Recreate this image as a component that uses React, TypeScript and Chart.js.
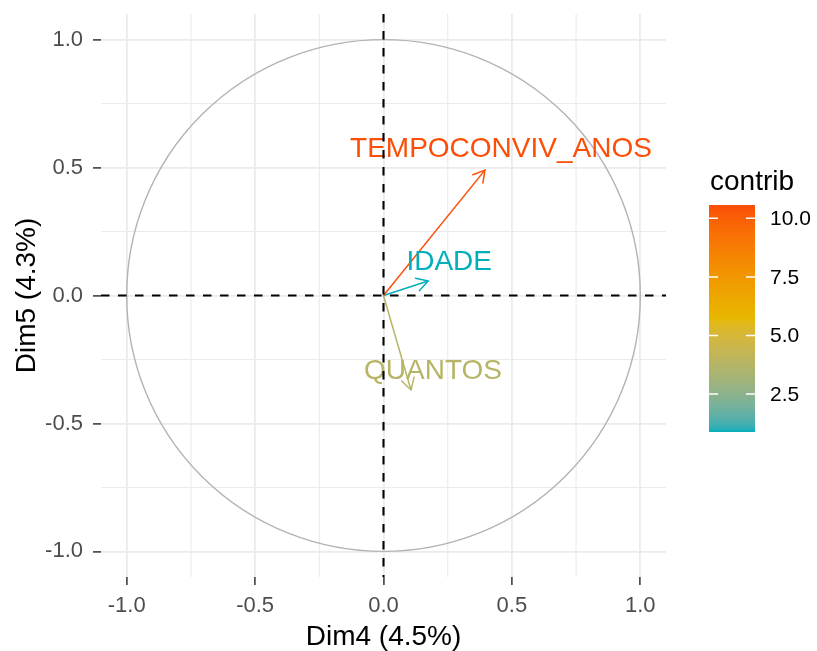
import React, { useEffect, useRef } from "react";
import { Chart, registerables } from "chart.js";

Chart.register(...registerables);

// Variable coordinates on Dim4 / Dim5 and their contributions
const variables = ["TEMPOCONVIV_ANOS", "IDADE", "QUANTOS"];
const dim4 = [0.395, 0.174, 0.107];
const dim5 = [0.49, 0.057, -0.369];
const contrib = [10.57, 0.88, 3.77];

const axisTicks = [-1, -0.5, 0, 0.5, 1];
const minorBreaks = [-0.75, -0.25, 0.25, 0.75];
const legendTicks = [2.5, 5, 7.5, 10];
const gradientColors = ["#00AFBB", "#E7B800", "#FC4E07"];

const xTitle = "Dim4 (4.5%)";
const yTitle = "Dim5 (4.3%)";
const legendTitle = "contrib";

const FONT = "'Liberation Sans', Arial, Helvetica, sans-serif";

// Label nudges (pixels) from the arrow tip to the text baseline centre
const labelNudge: [number, number][] = [
  [16, -13],
  [21, -11],
  [22, -11],
];

// ---- colour interpolation in CIE Lab (like ggplot's gradientn) ----
function hexToRgb(h: string): number[] {
  const s = h.replace("#", "");
  return [0, 2, 4].map((i) => parseInt(s.slice(i, i + 2), 16));
}
function toLin(c: number) {
  c /= 255;
  return c <= 0.04045 ? c / 12.92 : Math.pow((c + 0.055) / 1.055, 2.4);
}
function fromLin(c: number) {
  const v = c <= 0.0031308 ? 12.92 * c : 1.055 * Math.pow(c, 1 / 2.4) - 0.055;
  return Math.round(Math.max(0, Math.min(1, v)) * 255);
}
const Xn = 0.95047, Yn = 1, Zn = 1.08883;
function rgbToLab(rgb: number[]) {
  const [R, G, B] = rgb.map(toLin);
  const X = (0.4124 * R + 0.3576 * G + 0.1805 * B) / Xn;
  const Y = (0.2126 * R + 0.7152 * G + 0.0722 * B) / Yn;
  const Z = (0.0193 * R + 0.1192 * G + 0.9505 * B) / Zn;
  const f = (t: number) => (t > 0.008856 ? Math.cbrt(t) : 7.787 * t + 16 / 116);
  const fx = f(X), fy = f(Y), fz = f(Z);
  return [116 * fy - 16, 500 * (fx - fy), 200 * (fy - fz)];
}
function labToRgb(lab: number[]) {
  const [L, a, b] = lab;
  const fy = (L + 16) / 116;
  const fx = fy + a / 500;
  const fz = fy - b / 200;
  const inv = (t: number) => (t * t * t > 0.008856 ? t * t * t : (t - 16 / 116) / 7.787);
  const X = Xn * inv(fx), Y = Yn * inv(fy), Z = Zn * inv(fz);
  const R = 3.2406 * X - 1.5372 * Y - 0.4986 * Z;
  const G = -0.9689 * X + 1.8758 * Y + 0.0415 * Z;
  const B = 0.0557 * X - 0.204 * Y + 1.057 * Z;
  return [fromLin(R), fromLin(G), fromLin(B)];
}
const gradientLab = gradientColors.map((c) => rgbToLab(hexToRgb(c)));
const cMin = Math.min(...contrib);
const cMax = Math.max(...contrib);

function colorAt(v: number): string {
  let t = (v - cMin) / (cMax - cMin);
  t = Math.max(0, Math.min(1, t));
  const seg = Math.min(gradientLab.length - 2, Math.floor(t * (gradientLab.length - 1)));
  const local = t * (gradientLab.length - 1) - seg;
  const a = gradientLab[seg], b = gradientLab[seg + 1];
  const lab = a.map((x, i) => x + (b[i] - x) * local);
  const [r, g, bb] = labToRgb(lab);
  return `rgb(${r},${g},${bb})`;
}

const arrowColors = contrib.map(colorAt);

const decorPlugin = {
  id: "pcaDecor",
  beforeDatasetsDraw(chart: any) {
    const { ctx, chartArea: a, scales } = chart;
    const x = scales.x, y = scales.y;
    ctx.save();
    // minor grid
    ctx.strokeStyle = "#EBEBEB";
    ctx.lineWidth = 1.1;
    for (const v of minorBreaks) {
      const px = x.getPixelForValue(v);
      ctx.beginPath();
      ctx.moveTo(px, a.top);
      ctx.lineTo(px, a.bottom);
      ctx.stroke();
      const py = y.getPixelForValue(v);
      ctx.beginPath();
      ctx.moveTo(a.left, py);
      ctx.lineTo(a.right, py);
      ctx.stroke();
    }
    // unit correlation circle
    const cx = x.getPixelForValue(0), cy = y.getPixelForValue(0);
    const rx = x.getPixelForValue(1) - cx;
    const ry = cy - y.getPixelForValue(1);
    ctx.beginPath();
    ctx.ellipse(cx, cy, rx, ry, 0, 0, Math.PI * 2);
    ctx.strokeStyle = "#B3B3B3";
    ctx.lineWidth = 1.4;
    ctx.stroke();
    ctx.restore();
  },
  afterDatasetsDraw(chart: any) {
    const { ctx, chartArea: a, scales } = chart;
    const x = scales.x, y = scales.y;
    ctx.save();
    chart.data.datasets.forEach((ds: any, i: number) => {
      const meta = chart.getDatasetMeta(i);
      const p0 = meta.data[0], p1 = meta.data[1];
      const ang = Math.atan2(p1.y - p0.y, p1.x - p0.x);
      const len = 13, spread = Math.PI / 6;
      ctx.strokeStyle = arrowColors[i];
      ctx.lineWidth = 1.5;
      ctx.lineCap = "round";
      ctx.beginPath();
      ctx.moveTo(p1.x - len * Math.cos(ang - spread), p1.y - len * Math.sin(ang - spread));
      ctx.lineTo(p1.x, p1.y);
      ctx.lineTo(p1.x - len * Math.cos(ang + spread), p1.y - len * Math.sin(ang + spread));
      ctx.stroke();
      ctx.fillStyle = arrowColors[i];
      ctx.font = `28px ${FONT}`;
      ctx.textAlign = "center";
      ctx.textBaseline = "alphabetic";
      ctx.fillText(variables[i], p1.x + labelNudge[i][0], p1.y + labelNudge[i][1]);
    });
    // dashed reference lines through the origin
    ctx.strokeStyle = "#000000";
    ctx.lineWidth = 2.1;
    ctx.lineCap = "butt";
    ctx.setLineDash([8.5, 8.5]);
    const px = x.getPixelForValue(0);
    ctx.beginPath();
    ctx.moveTo(px, a.top);
    ctx.lineTo(px, a.bottom);
    ctx.stroke();
    const py = y.getPixelForValue(0);
    ctx.beginPath();
    ctx.moveTo(a.left, py);
    ctx.lineTo(a.right, py);
    ctx.stroke();
    ctx.restore();
  },
  afterDraw(chart: any) {
    const { ctx } = chart;
    ctx.save();
    const lx = 709, lw = 46, top = 205, bottom = 432;
    // legend title
    ctx.fillStyle = "#000000";
    ctx.font = `28px ${FONT}`;
    ctx.textAlign = "left";
    ctx.textBaseline = "alphabetic";
    ctx.fillText(legendTitle, 710, 190);
    // colour bar
    const grad = ctx.createLinearGradient(0, bottom, 0, top);
    const steps = 60;
    for (let k = 0; k <= steps; k++) {
      const t = k / steps;
      grad.addColorStop(t, colorAt(cMin + t * (cMax - cMin)));
    }
    ctx.fillStyle = grad;
    ctx.fillRect(lx, top, lw, bottom - top);
    // ticks and labels
    ctx.strokeStyle = "#FFFFFF";
    ctx.lineWidth = 1.5;
    ctx.font = `21px ${FONT}`;
    ctx.fillStyle = "#000000";
    ctx.textBaseline = "middle";
    for (const v of legendTicks) {
      const py = bottom - ((v - cMin) / (cMax - cMin)) * (bottom - top);
      ctx.beginPath();
      ctx.moveTo(lx, py);
      ctx.lineTo(lx + 9, py);
      ctx.moveTo(lx + lw - 9, py);
      ctx.lineTo(lx + lw, py);
      ctx.stroke();
      ctx.fillText(v.toFixed(1), lx + lw + 15, py + 1);
    }
    ctx.restore();
  },
};

export default function App() {
  const canvasRef = useRef<HTMLCanvasElement | null>(null);

  useEffect(() => {
    const canvas = canvasRef.current;
    if (!canvas) return;
    const tickFont = { family: FONT, size: 22 };
    const titleFont = { family: FONT, size: 28, lineHeight: 1 };
    const grid = {
      color: "#EBEBEB",
      lineWidth: 1.8,
      drawTicks: true,
      tickLength: 8,
      tickColor: "#333333",
      tickWidth: 1.5,
    };
    const chart = new Chart(canvas, {
      type: "scatter",
      data: {
        datasets: variables.map((name, i) => ({
          label: name,
          data: [
            { x: 0, y: 0 },
            { x: dim4[i], y: dim5[i] },
          ],
          showLine: true,
          borderColor: arrowColors[i],
          borderWidth: 1.5,
          pointRadius: 0,
          pointHoverRadius: 0,
          fill: false,
        })),
      },
      options: {
        responsive: false,
        animation: false,
        events: [],
        layout: { padding: { left: 0, top: 14, right: 151, bottom: 0 } },
        plugins: {
          legend: { display: false },
          tooltip: { enabled: false },
          title: { display: false },
        },
        scales: {
          x: {
            type: "linear",
            min: -1.1,
            max: 1.1,
            afterBuildTicks: (s: any) => {
              s.ticks = axisTicks.map((v) => ({ value: v }));
            },
            afterFit: (s: any) => {
              s.height = 74;
              s.paddingLeft = 0;
              s.paddingRight = 0;
            },
            grid,
            border: { display: false },
            ticks: {
              color: "#4D4D4D",
              font: tickFont,
              padding: 8,
              maxRotation: 0,
              autoSkip: false,
              callback: (v: any) => Number(v).toFixed(1),
            },
            title: {
              display: true,
              text: xTitle,
              color: "#000000",
              font: titleFont,
              padding: { top: 0, bottom: 0 },
            },
          },
          y: {
            type: "linear",
            min: -1.1,
            max: 1.1,
            afterBuildTicks: (s: any) => {
              s.ticks = axisTicks.map((v) => ({ value: v }));
            },
            afterFit: (s: any) => {
              s.width = 101;
              s.paddingTop = 0;
              s.paddingBottom = 0;
            },
            grid,
            border: { display: false },
            ticks: {
              color: "#4D4D4D",
              font: tickFont,
              padding: 10,
              autoSkip: false,
              callback: (v: any) => Number(v).toFixed(1),
            },
            title: {
              display: true,
              text: yTitle,
              color: "#000000",
              font: titleFont,
              padding: { top: 13, bottom: 0 },
            },
          },
        },
      },
      plugins: [decorPlugin],
    } as any);
    return () => chart.destroy();
  }, []);

  return (
    <div style={{ position: "absolute", left: 0, top: 0, width: 817, height: 651, background: "#FFFFFF" }}>
      <canvas ref={canvasRef} width={817} height={651} style={{ width: 817, height: 651, display: "block" }} />
    </div>
  );
}
